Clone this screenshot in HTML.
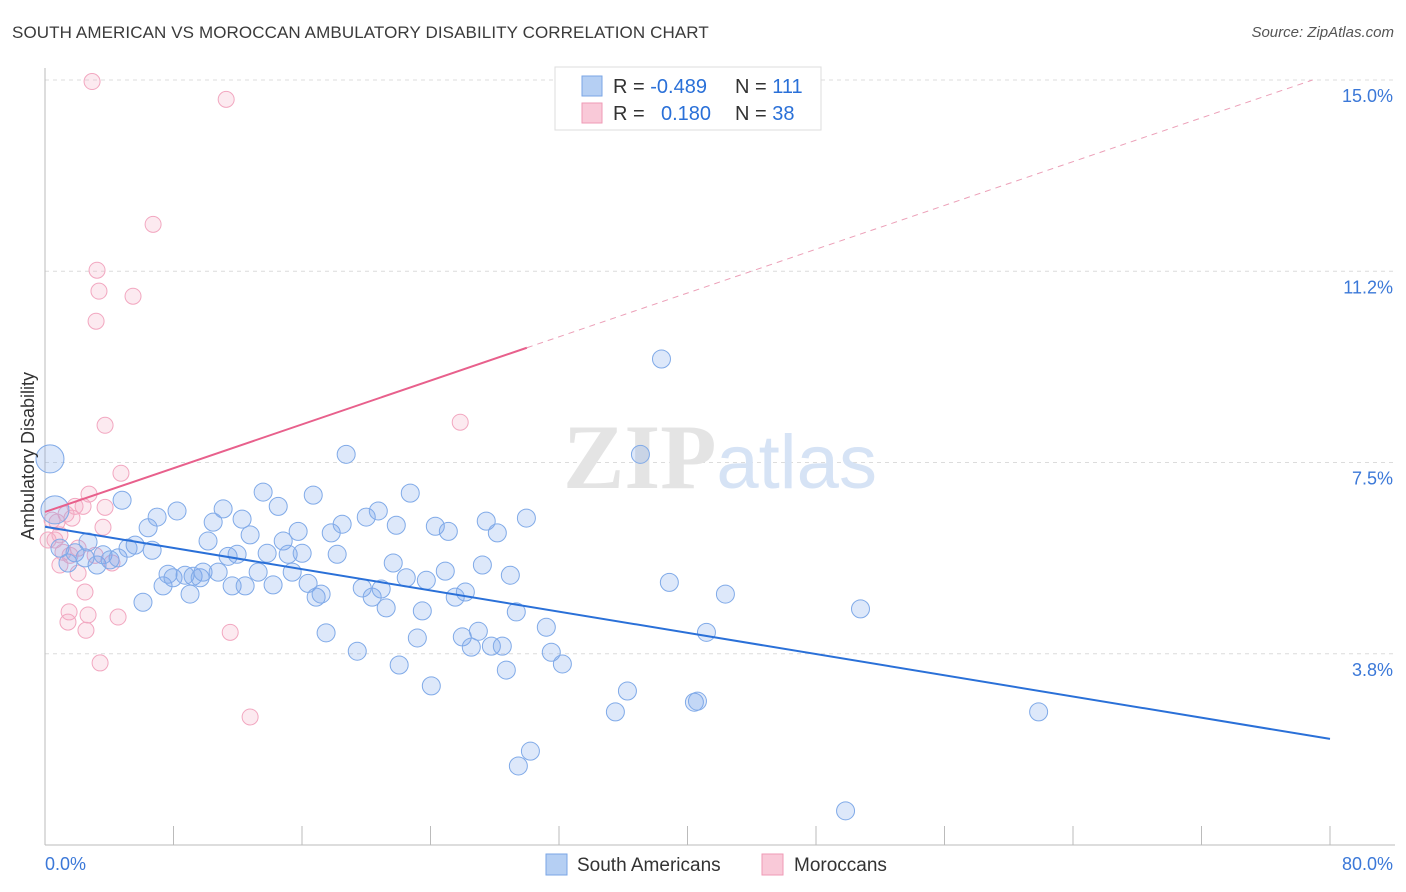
<!DOCTYPE html>
<html><head><meta charset="utf-8">
<style>
body{margin:0;background:#fff;font-family:"Liberation Sans",sans-serif;}
#wrap{position:relative;width:1406px;height:892px;overflow:hidden;}
.title{position:absolute;left:12px;top:23px;font-size:17px;color:#3a3a3a;letter-spacing:0.1px}
.source{position:absolute;right:12px;top:24px;font-size:15px;color:#555;font-style:italic}
</style></head><body>
<div id="wrap">
<div class="title">SOUTH AMERICAN VS MOROCCAN AMBULATORY DISABILITY CORRELATION CHART</div>
<div class="source">Source: ZipAtlas.com</div>
<svg id="svg" width="1406" height="892" style="position:absolute;left:0;top:0"></svg>
</div>
<script>
const blueX=[0.31,0.62,0.93,1.43,1.87,2.49,2.68,3.24,3.61,4.05,4.55,4.80,5.17,5.61,6.10,6.42,6.67,6.98,7.35,7.66,7.97,8.22,8.72,9.03,9.22,9.66,9.84,10.15,10.47,10.78,11.09,11.40,11.65,11.96,12.27,12.46,12.77,13.27,13.58,13.83,14.20,14.52,14.83,15.14,15.39,15.76,16.01,16.38,16.70,16.88,17.19,17.50,17.82,18.19,18.50,18.75,19.44,19.75,20.00,20.37,20.75,20.93,21.24,21.68,21.87,22.05,22.49,22.74,23.18,23.49,23.74,24.05,24.30,24.92,25.11,25.54,25.98,26.17,26.54,26.98,27.23,27.47,27.79,28.16,28.47,28.72,28.97,29.34,29.47,29.97,30.22,31.21,31.52,32.21,35.51,36.26,37.07,38.38,38.87,40.43,40.62,41.18,42.36,49.84,50.77,61.86];
const blueY=[7.57,6.57,5.82,5.53,5.73,5.63,5.94,5.49,5.69,5.59,5.63,6.76,5.82,5.88,4.76,6.22,5.78,6.43,5.08,5.31,5.24,6.55,5.29,4.92,5.27,5.24,5.35,5.96,6.33,5.35,6.59,5.66,5.08,5.70,6.39,5.08,6.08,5.35,6.92,5.72,5.10,6.64,5.96,5.70,5.35,6.15,5.72,5.13,6.86,4.86,4.92,4.16,6.12,5.70,6.29,7.66,3.80,5.04,6.43,4.86,6.55,5.02,4.65,5.53,6.27,3.53,5.24,6.90,4.06,4.59,5.19,3.12,6.25,5.37,6.15,4.86,4.08,4.96,3.88,4.19,5.49,6.35,3.90,6.12,3.90,3.43,5.29,4.57,1.55,6.41,1.84,4.27,3.78,3.55,2.61,3.02,7.66,9.53,5.15,2.80,2.82,4.17,4.92,0.67,4.63,2.61];
const pinkX=[2.93,11.28,6.73,3.24,3.36,5.48,3.18,3.74,25.85,4.73,2.74,1.87,2.37,3.74,1.31,1.68,0.75,0.44,3.61,0.93,0.62,2.06,1.12,4.17,0.93,2.06,1.50,2.49,1.43,2.68,2.55,4.55,11.53,3.43,12.77,0.19,1.56,3.12];
const pinkY=[14.97,14.62,12.17,11.27,10.86,10.76,10.27,8.23,8.29,7.29,6.88,6.64,6.64,6.62,6.49,6.41,6.33,6.37,6.23,6.08,5.98,5.82,5.74,5.53,5.49,5.33,4.57,4.96,4.37,4.51,4.21,4.47,4.17,3.57,2.51,5.98,5.68,5.68];
const yTicks=[3.75,7.5,11.25,15];
const yTickLabels=["3.8%","7.5%","11.2%","15.0%"];
const blueTrend=[6.24,2.08];
const pinkTrend=[6.53,9.75];
const NS="http://www.w3.org/2000/svg";
const svg=document.getElementById('svg');
const X=v=>45+v/80*1285;
const Y=v=>845-v*51;
function mk(t,a,p){const e=document.createElementNS(NS,t);for(const k in a)e.setAttribute(k,a[k]);(p||svg).appendChild(e);return e;}
yTicks.forEach((t,i)=>{
 const g=mk('line',{x1:45,x2:1395,y1:Y(t),y2:Y(t),stroke:'#dcdcdc','stroke-dasharray':'4,4'});
 
 
 const l=mk('text',{x:1393,y:Y(t)+22,'text-anchor':'end','font-size':18,fill:'#3b78d8','font-family':'Liberation Sans'});
 l.textContent=yTickLabels[i];
 
 
});
const ax=mk('line',{x1:45,x2:1395,y1:845,y2:845,stroke:'#bbb'});


const ay=mk('line',{x1:45,x2:45,y1:68,y2:845,stroke:'#bbb'});


for(let i=0;i<=10;i++){const t=mk('line',{x1:X(i*8),x2:X(i*8),y1:826,y2:845,stroke:'#bbb'});
 
 }
const wm=mk('text',{x:720,y:488,'text-anchor':'middle','font-size':92,'font-family':'Liberation Serif',fill:'#e4e4e4'});
wm.innerHTML='<tspan font-weight="bold">ZIP</tspan><tspan font-family="Liberation Sans" fill="#d6e3f5" font-size="76">atlas</tspan>';


pinkX.forEach((x,i)=>{const c=mk('circle',{cx:X(x),cy:Y(pinkY[i]),r:8,fill:'rgba(244,170,195,0.25)',stroke:'#f2a7c0','stroke-width':1});
 
 });
blueX.forEach((x,i)=>{const c=mk('circle',{cx:X(x),cy:Y(blueY[i]),r:i<2?14:9,fill:'rgba(120,165,235,0.25)',stroke:'#80aae8','stroke-width':1});
 
 });
const bt=mk('line',{x1:X(0),y1:Y(blueTrend[0]),x2:X(80),y2:Y(blueTrend[1]),stroke:'#2a70d8','stroke-width':2});


const slope=(pinkTrend[1]-pinkTrend[0])/30;
const pt=mk('line',{x1:X(0),y1:Y(pinkTrend[0]),x2:X(30),y2:Y(pinkTrend[1]),stroke:'#e8608c','stroke-width':2});


const xe=(15-pinkTrend[0])/slope;
const pd=mk('line',{x1:X(30),y1:Y(pinkTrend[1]),x2:X(xe),y2:Y(15),stroke:'#eca0b8','stroke-width':1,'stroke-dasharray':'6,5'});


function txt(x,y,s,str,fill,anchor,name){const t=mk('text',{x:x,y:y,'font-size':s,fill:fill,'text-anchor':anchor||'start','font-family':'Liberation Sans'});t.textContent=str;
 
 return t;}
txt(45,870,18,'0.0%','#3b78d8','start','x-min-label');
txt(1393,870,18,'80.0%','#3b78d8','end','x-max-label');
const yt=txt(0,0,18,'Ambulatory Disability','#333','middle','y-axis-title');
yt.setAttribute('transform','translate(34,456) rotate(-90)');
const lg=mk('rect',{x:555,y:67,width:266,height:63,fill:'#fff',stroke:'#ddd'});


const s1=mk('rect',{x:582,y:76,width:20,height:20,fill:'#b5cff3',stroke:'#7aa6e6'});


const s2=mk('rect',{x:582,y:103,width:20,height:20,fill:'#f9c9d8',stroke:'#ef9ab6'});


const r1=mk('text',{x:613,y:93,'font-size':20,'font-family':'Liberation Sans',fill:'#333'});
r1.innerHTML='R = <tspan fill="#2a70d8">-0.489</tspan><tspan x="735">N = </tspan><tspan fill="#2a70d8">111</tspan>';


const r2=mk('text',{x:613,y:120,'font-size':20,'font-family':'Liberation Sans',fill:'#333'});
r2.innerHTML='R = <tspan x="661" fill="#2a70d8">0.180</tspan><tspan x="735">N = </tspan><tspan fill="#2a70d8">38</tspan>';


const b1=mk('rect',{x:546,y:854,width:21,height:21,fill:'#b5cff3',stroke:'#7aa6e6'});


txt(577,871,19,'South Americans','#333','start','legend-label-south-americans');
const b2=mk('rect',{x:762,y:854,width:21,height:21,fill:'#f9c9d8',stroke:'#ef9ab6'});


txt(794,871,19,'Moroccans','#333','start','legend-label-moroccans');
</script>
</body></html>
